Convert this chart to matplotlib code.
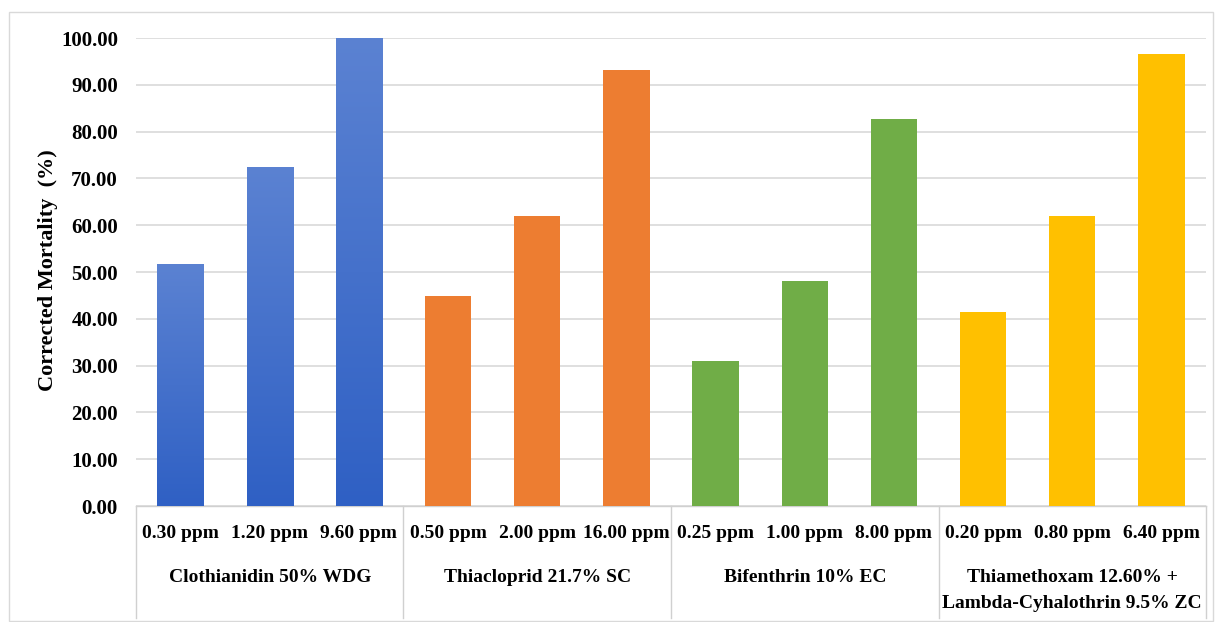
import matplotlib
matplotlib.use("Agg")
import matplotlib.pyplot as plt
import numpy as np
from matplotlib.patches import Rectangle
from matplotlib.colors import LinearSegmentedColormap

# ---- data ----
groups = ["Clothianidin 50% WDG", "Thiacloprid 21.7% SC", "Bifenthrin 10% EC",
          "Thiamethoxam 12.60% +\nLambda-Cyhalothrin 9.5% ZC"]
doses = [["0.30 ppm", "1.20 ppm", "9.60 ppm"],
         ["0.50 ppm", "2.00 ppm", "16.00 ppm"],
         ["0.25 ppm", "1.00 ppm", "8.00 ppm"],
         ["0.20 ppm", "0.80 ppm", "6.40 ppm"]]
clothianidin = [51.7, 72.5, 100.0]
thiacloprid = [44.8, 62.0, 93.2]
bifenthrin = [31.0, 48.1, 82.7]
thiamethoxam = [41.4, 62.0, 96.6]
yticks = [0, 10, 20, 30, 40, 50, 60, 70, 80, 90, 100]
ylabel = "Corrected Mortality  (%)"

series = [clothianidin, thiacloprid, bifenthrin, thiamethoxam]
colors = ["#4472C4", "#ED7D31", "#70AD47", "#FFC000"]

plt.rcParams['font.family'] = ['Liberation Serif', 'DejaVu Serif']
plt.rcParams['font.weight'] = 'bold'

W, H = 1216, 622
fig = plt.figure(figsize=(W / 100, H / 100), dpi=100)
fig.patch.set_facecolor("white")
L, R, T, B = 136, 1206, 38, 506
ax = fig.add_axes([L / W, 1 - B / H, (R - L) / W, (B - T) / H])

labels = [d for g in doses for d in g]
vals = [v for s in series for v in s]
cols = [c for c, s in zip(colors, series) for _ in s]
x = np.arange(len(vals))
bars = ax.bar(x, vals, width=0.52, color=cols, zorder=3)

# gentle gradient on the blue bars
blue_cmap = LinearSegmentedColormap.from_list("b", ["#2f60c4", "#5b82d2"])
grad = np.linspace(0, 1, 256).reshape(-1, 1)
for b in bars[:3]:
    x0, y0 = b.get_x(), b.get_y()
    w, h = b.get_width(), b.get_height()
    im = ax.imshow(grad, cmap=blue_cmap, origin="lower", aspect="auto",
                   extent=[x0, x0 + w, y0, y0 + h], zorder=4)
    im.set_clip_path(b)

ax.set_xlim(-0.5, len(vals) - 0.5)
ax.set_ylim(0, 100)
ax.set_yticks(yticks)
ax.set_yticklabels([f"{v:.2f}" for v in yticks], fontsize=15, fontweight="bold")
ax.set_xticks(x)
ax.set_xticklabels(labels, fontsize=14, fontweight="bold")
ax.tick_params(axis="both", length=0)
ax.tick_params(axis="y", pad=13)
ax.tick_params(axis="x", pad=14)
ax.yaxis.grid(True, color="#d9d9d9", linewidth=1.2, zorder=0)
ax.set_axisbelow(True)
for s in ["left", "right", "top"]:
    ax.spines[s].set_visible(False)
ax.spines["bottom"].set_color("#d0d0d0")
ax.spines["bottom"].set_linewidth(1.0)

trans = ax.get_xaxis_transform()
for gi, g in enumerate(groups):
    cx = gi * 3 + 1
    lines = g.split("\n")
    ax.text(cx, -0.152, lines[0], transform=trans, ha="center", va="center",
            fontsize=14, fontweight="bold")
    if len(lines) > 1:
        ax.text(cx, -0.208, lines[1], transform=trans, ha="center", va="center",
                fontsize=14, fontweight="bold")
for k in range(len(groups) + 1):
    xs = k * 3 - 0.5
    ax.plot([xs, xs], [0, -0.239], transform=trans, color="#d0d0d0",
            linewidth=1.0, clip_on=False)

fig.text(48 / W, 1 - 270 / H, ylabel, rotation=90, ha="center", va="center",
         fontsize=16, fontweight="bold")

fig.patches.append(Rectangle((9 / W, 1 - 621 / H), (1213 - 9) / W, (621 - 12) / H,
                             transform=fig.transFigure, fill=False,
                             edgecolor="#d9d9d9", linewidth=1.0))

fig.savefig("out.png", dpi=100, facecolor="white")
